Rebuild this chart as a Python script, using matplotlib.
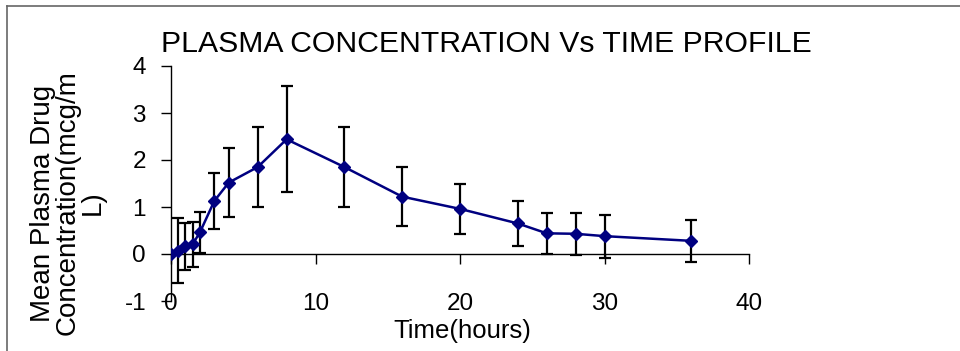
import matplotlib
matplotlib.use("Agg")
import matplotlib.pyplot as plt
from matplotlib.lines import Line2D

plt.rcParams['font.family'] = ['Liberation Sans', 'DejaVu Sans']
plt.rcParams['axes.unicode_minus'] = False

time_h = [0, 0.5, 1, 1.5, 2, 3, 4, 6, 8, 12, 16, 20, 24, 26, 28, 30, 36]
mean_conc = [0.0, 0.07, 0.16, 0.21, 0.46, 1.13, 1.52, 1.85, 2.44, 1.85, 1.22, 0.96, 0.65, 0.44, 0.43, 0.38, 0.28]
sd_conc = [0.0, 0.69, 0.50, 0.48, 0.44, 0.60, 0.74, 0.86, 1.13, 0.86, 0.63, 0.54, 0.47, 0.44, 0.45, 0.46, 0.45]

x_ticks = [0, 10, 20, 30, 40]
y_ticks = [-1, 0, 1, 2, 3, 4]

title = "PLASMA CONCENTRATION Vs TIME PROFILE"
x_label = "Time(hours)"
y_label = "Mean Plasma Drug\nConcentration(mcg/m\nL)"

fig = plt.figure(figsize=(9.6, 3.51), dpi=100)
W, H = 960, 351
ax = fig.add_axes([171 / W, 1 - 301 / H, (749 - 171) / W, (301 - 66) / H])

ax.errorbar(time_h, mean_conc, yerr=sd_conc, fmt='none', ecolor='black',
            elinewidth=1.6, capsize=4.5, capthick=1.6, zorder=2)
ax.plot(time_h, mean_conc, color='#000080', linewidth=1.8, marker='D',
        markersize=6.5, zorder=3)

ax.set_xlim(0, 40)
ax.set_ylim(-1, 4)
ax.set_xticks(x_ticks)
ax.set_yticks(y_ticks)
ax.spines['top'].set_visible(False)
ax.spines['right'].set_visible(False)
ax.spines['bottom'].set_position(('data', 0))
for s in ('left', 'bottom'):
    ax.spines[s].set_linewidth(1.0)
    ax.spines[s].set_color('black')
ax.tick_params(axis='x', direction='out', length=7, width=1.0, pad=21, labelsize=17.5)
ax.tick_params(axis='y', direction='out', length=7, width=1.0, pad=11, labelsize=17.5)

fig.text(486 / W, 1 - 44 / H, title, ha='center', va='center', fontsize=21.7)
fig.text(462 / W, 1 - 331 / H, x_label, ha='center', va='center', fontsize=18.5)
fig.text(68 / W, 1 - 203 / H, y_label, ha='center', va='center', rotation=90,
         fontsize=20, multialignment='center', linespacing=0.93)

fig.add_artist(Line2D([7 / W, 7 / W], [0, 1 - 6 / H], transform=fig.transFigure,
                      color='#666666', linewidth=1.2))
fig.add_artist(Line2D([7 / W, 1], [1 - 6 / H, 1 - 6 / H], transform=fig.transFigure,
                      color='#666666', linewidth=1.2))

fig.savefig("out.png", dpi=100)
